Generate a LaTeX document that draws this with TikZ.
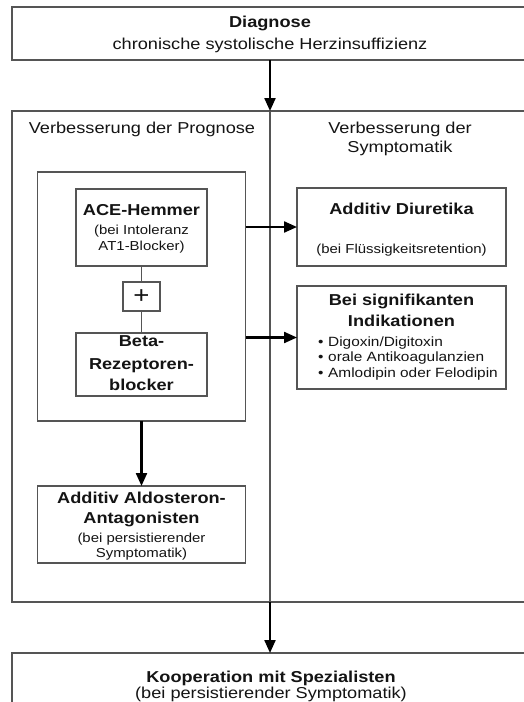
\documentclass[tikz,border=0pt]{standalone}
\usepackage{fontspec}
\setmainfont{Liberation Sans}[FakeStretch=1.15]
\usetikzlibrary{arrows.meta}
\definecolor{bordergray}{HTML}{555555}
\definecolor{txt}{HTML}{141414}
\tikzset{
  bx/.style={draw=bordergray, line width=1.3pt, inner sep=0pt, outer sep=0pt, anchor=north west, rectangle},
  arr/.style={draw=black, line width=2.2pt, -{Triangle[length=13pt,width=11pt]}},
  conn/.style={draw=bordergray, line width=1.3pt},
  tb/.style={anchor=base, inner sep=0pt, text=txt, font=\fontsize{15.8}{19}\selectfont\bfseries},
  tr/.style={anchor=base, inner sep=0pt, text=txt, font=\fontsize{15.8}{19}\selectfont},
  ts/.style={anchor=base, inner sep=0pt, text=txt, font=\fontsize{13}{15}\selectfont},
  tl/.style={anchor=base west, inner sep=0pt, text=txt, font=\fontsize{13.4}{15}\selectfont},
  tplus/.style={anchor=center, inner sep=0pt, text=txt, font=\fontsize{24}{26}\selectfont},
}
\begin{document}
\begin{tikzpicture}[x=1pt, y=-1pt]
\clip (0,0) rectangle (524,702);
\fill[white] (0,0) rectangle (524,702);
\coordinate (axis) at (270,0);
% boxes
\node[bx, minimum width=530pt, minimum height=53pt] (diag) at (12,7) {};
\node[bx, minimum width=530pt, minimum height=491pt] (big) at (12,111) {};
\node[bx, minimum width=530pt, minimum height=60pt] (koop) at (12,653) {};
\node[bx, minimum width=208pt, minimum height=249pt] (group) at (37.5,172) {};
\node[bx, minimum width=131pt, minimum height=77pt] (ace) at (76,189) {};
\node[bx, minimum width=37pt, minimum height=29pt] (plus) at (123,282) {};
\node[bx, minimum width=131pt, minimum height=63pt] (beta) at (76,333) {};
\node[bx, minimum width=208pt, minimum height=77pt] (aldo) at (37.5,486) {};
\node[bx, minimum width=209pt, minimum height=78pt] (diur) at (297,188) {};
\node[bx, minimum width=209pt, minimum height=103pt] (indik) at (297,286) {};
% connectors
\draw[arr] (axis |- diag.south) -- (axis |- big.north);
\draw[conn] (axis |- big.north) -- (axis |- big.south);
\draw[arr] (axis |- big.south) -- (axis |- koop.north);
\draw[conn] (ace.south) -- (plus.north);
\draw[conn] (plus.south) -- (beta.north);
\draw[arr] (group.south) -- (aldo.north);
\draw[arr] (group.east |- diur.west) -- (diur.west);
\draw[arr] (group.east |- indik.west) -- (indik.west);
% texts
\node[tb] (diagA) at (270,27) {Diagnose};
\node[tr] (diagB) at (270,49.5) {chronische systolische Herzinsuffizienz};
\node[tr] (progA) at (142,133) {Verbesserung der Prognose};
\node[tr] (symA) at (400,133) {Verbesserung der};
\node[tr] (symB) at (400,152) {Symptomatik};
\node[tb] (aceA) at (141.5,215) {ACE-Hemmer};
\node[ts] (aceB) at (141.5,234) {(bei Intoleranz};
\node[ts] (aceC) at (141.5,250) {AT1-Blocker)};
\node[tplus] (plusT) at (plus.center) {+};
\node[tb] (betaA) at (141.5,346) {Beta-};
\node[tb] (betaB) at (141.5,369) {Rezeptoren-};
\node[tb] (betaC) at (141.5,390) {blocker};
\node[tb] (aldoA) at (141.5,503) {Additiv Aldosteron-};
\node[tb] (aldoB) at (141.5,523) {Antagonisten};
\node[ts] (aldoC) at (141.5,542) {(bei persistierender};
\node[ts] (aldoD) at (141.5,557.5) {Symptomatik)};
\node[tb] (diurA) at (401.5,214) {Additiv Diuretika};
\node[ts] (diurB) at (401.5,253) {(bei Flüssigkeitsretention)};
\node[tb] (indA) at (401.5,305) {Bei signifikanten};
\node[tb] (indB) at (401.5,326) {Indikationen};
\node[tl] (indC) at (318,346) {\makebox[10pt][l]{•}Digoxin/Digitoxin};
\node[tl] (indD) at (318,361.5) {\makebox[10pt][l]{•}orale Antikoagulanzien};
\node[tl] (indE) at (318,377) {\makebox[10pt][l]{•}Amlodipin oder Felodipin};
\node[tb] (koopA) at (271,682) {Kooperation mit Spezialisten};
\node[tr] (koopB) at (271,698) {(bei persistierender Symptomatik)};
\end{tikzpicture}
\end{document}
